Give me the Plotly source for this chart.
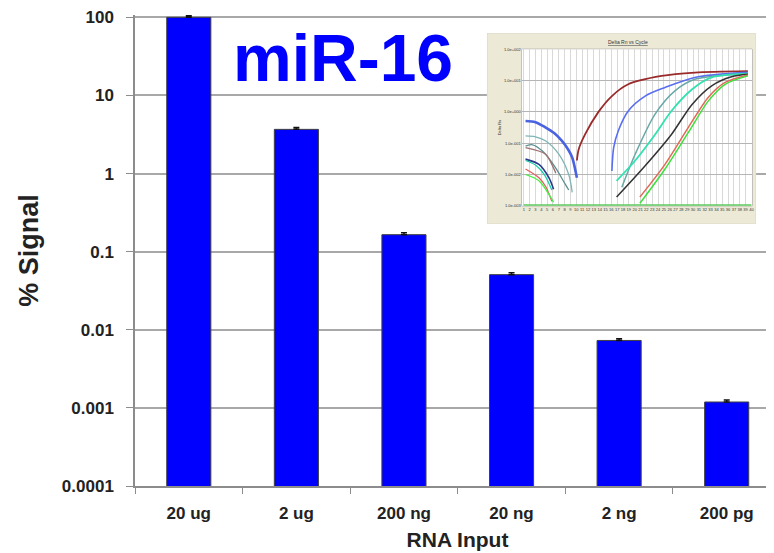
import plotly.graph_objects as go

# ---------------- data ----------------
categories = ["20 ug", "2 ug", "200 ng", "20 ng", "2 ng", "200 pg"]
signal = [100, 3.68, 0.165, 0.0508, 0.0073, 0.00119]
signal_err = [5, 0.2, 0.01, 0.003, 0.0004, 0.00007]
ytick_vals = [0.0001, 0.001, 0.01, 0.1, 1, 10, 100]
ytick_text = ["0.0001", "0.001", "0.01", "0.1", "1", "10", "100"]

# inset amplification plot (cycle, Delta Rn)
inset_curves = [
    # early baseline curves
    ("#4a63e0", 2.6, [1.3, 3, 4.7, 6.2, 7.5, 8.6, 9.3, 10.1], [0.51, 0.47, 0.32, 0.21, 0.12, 0.063, 0.035, 0.0079]),
    ("#7fb5b5", 1.3, [1.3, 3, 4.7, 7, 8.7, 9.3], [0.17, 0.16, 0.12, 0.045, 0.010, 0.0027]),
    ("#5c8f8f", 1.3, [1.3, 2.5, 4.1, 6.4, 8.1, 8.7], [0.081, 0.089, 0.058, 0.017, 0.0049, 0.0032]),
    ("#a07070", 1.3, [1.3, 4.7, 5.8, 6.5], [0.072, 0.045, 0.021, 0.011]),
    ("#2a3a8a", 1.6, [1.3, 3.6, 5.3, 6.1], [0.031, 0.021, 0.0079, 0.0034]),
    ("#22ccaa", 1.3, [1.3, 3.0, 4.5, 5.8], [0.028, 0.020, 0.010, 0.0032]),
    ("#e06060", 1.3, [1.3, 3.6, 4.8, 5.8], [0.015, 0.0079, 0.004, 0.0014]),
    ("#44ee44", 1.3, [1.3, 3.6, 6.1], [0.010, 0.0063, 0.0013]),
    # amplification curves
    ("#9b2a2a", 1.8, [10.1, 10.4, 11.5, 13.8, 16.1, 18.9, 24.6, 30.3, 39.4], [0.028, 0.063, 0.19, 1.0, 3.2, 7.6, 14, 18, 20]),
    ("#5a6ef0", 1.6, [16.1, 16.4, 17.2, 18.9, 21.8, 25.2, 30.3, 39.4], [0.013, 0.072, 0.25, 1.07, 3.2, 6.0, 12.6, 18.2]),
    ("#6aa8a8", 1.5, [17.8, 20.1, 23.5, 26.9, 30.3, 39.4], [0.0039, 0.045, 0.85, 4.7, 11, 16.6]),
    ("#33e0b0", 1.8, [16.9, 20.1, 23.5, 26.3, 29.8, 33.2, 39.4], [0.0063, 0.028, 0.19, 1.07, 5.2, 12.6, 16.6]),
    ("#333333", 1.5, [16.9, 21.8, 26.3, 29.8, 33.2, 36.6, 39.4], [0.0019, 0.019, 0.19, 1.7, 6.8, 13.2, 15.8]),
    ("#e06a5a", 1.5, [20.9, 25.2, 29.2, 32.6, 35.5, 39.4], [0.0019, 0.021, 0.32, 2.9, 8.7, 15.1]),
    ("#3ee03e", 1.5, [20.9, 25.2, 29.2, 32.6, 35.5, 39.4], [0.0012, 0.015, 0.22, 2.2, 7.6, 14.1]),
    ("#5cc85c", 3.0, [1, 40], [0.001, 0.001]),
]
inset_cycles = list(range(1, 41))
inset_ytick_vals = [0.001, 0.01, 0.1, 1, 10, 100]
inset_ytick_text = ["1.0e-003", "1.0e-002", "1.0e-001", "1.0e+000", "1.0e+001", "1.0e+002"]

# ---------------- layout geometry ----------------
# targets are given in screen pixels; the page body adds an 8px offset
OFF = 8
W, H = 774, 553
DEC = 470 / 6          # pixels per decade on the main y axis
YTOP = 2.03            # a little headroom so the 100 gridline is kept
L = 135 - OFF
T = 16 - (YTOP - 2) * DEC - OFF
B = H - (486 - OFF)
PW, PH = W - L, H - T - B


def fx(p):
    return (p - OFF - L) / PW


def fy(p):
    return (H - B - (p - OFF)) / PH


FONT = "Liberation Sans, Arial, sans-serif"

fig = go.Figure()

fig.add_trace(go.Bar(
    x=categories, y=signal, width=0.41,
    marker=dict(color="#0000ff", line=dict(color="#404040", width=1)),
    error_y=dict(type="data", array=signal_err, arrayminus=[0] * len(signal),
                 symmetric=False, color="#111111", thickness=1.5, width=3),
    xaxis="x", yaxis="y", showlegend=False, cliponaxis=False,
))

# inset panel background (beige) and white plotting area, in x2/y2 (0..1 space)
bx0, bx1, by0, by1 = 488, 758, 32, 223
ix0, ix1, iy0, iy1 = 523, 754, 48, 205


def ux(p):
    return (p - bx0) / (bx1 - bx0)


def uy(p):
    return (by1 - p) / (by1 - by0)


fig.add_trace(go.Scatter(
    x=[0, 1, 1, 0, 0], y=[0, 0, 1, 1, 0], mode="lines", fill="toself",
    fillcolor="#ece9d6", line=dict(color="#d8d4c0", width=1),
    xaxis="x2", yaxis="y2", showlegend=False, hoverinfo="skip"))
fig.add_trace(go.Scatter(
    x=[ux(ix0), ux(ix1), ux(ix1), ux(ix0), ux(ix0)],
    y=[uy(iy1), uy(iy1), uy(iy0), uy(iy0), uy(iy1)],
    mode="lines", fill="toself", fillcolor="#ffffff",
    line=dict(color="#9a9a9a", width=1),
    xaxis="x2", yaxis="y2", showlegend=False, hoverinfo="skip"))

for color, lw, cx, cy in inset_curves:
    fig.add_trace(go.Scatter(
        x=cx, y=cy, mode="lines", line=dict(color=color, width=lw, shape="spline", smoothing=0.8),
        xaxis="x3", yaxis="y3", showlegend=False, hoverinfo="skip", cliponaxis=False))

fig.update_layout(
    width=W, height=H,
    margin=dict(l=L, r=0, t=T, b=B, pad=0),
    paper_bgcolor="white", plot_bgcolor="white",
    font=dict(family=FONT, color="#222222"),
    xaxis=dict(
        domain=[0, 1], range=[-0.5, -0.5 + (W + OFF - 134.5) / 108],
        type="category", tickson="boundaries", ticks="outside", ticklen=6,
        tickcolor="#8c8c8c", tickwidth=1.2,
        showline=True, linecolor="#8c8c8c", linewidth=1.5, showgrid=False,
        tickfont=dict(size=17, weight="bold", color="#222222"),
        ticklabelstandoff=11, ticklabeloverflow="allow",
        title=dict(text="RNA Input", font=dict(size=21, weight="bold", color="#222222"), standoff=10),
    ),
    yaxis=dict(
        domain=[0, 1], type="log", range=[-4, YTOP],
        tickvals=ytick_vals, ticktext=ytick_text,
        ticks="outside", ticklen=7, tickcolor="#8c8c8c", tickwidth=1.2,
        showline=True, linecolor="#8c8c8c", linewidth=1.5,
        showgrid=True, gridcolor="#a8a8a8", gridwidth=1.5,
        tickfont=dict(size=17, weight="bold", color="#222222"),
        ticklabelstandoff=9, ticklabeloverflow="allow",
        title=dict(text="% Signal", font=dict(size=27, weight="bold", color="#222222"), standoff=15),
    ),
    xaxis2=dict(domain=[fx(bx0), fx(bx1)], range=[0, 1], visible=False, anchor="y2"),
    yaxis2=dict(domain=[fy(by1), fy(by0)], range=[0, 1], visible=False, anchor="x2"),
    xaxis3=dict(
        domain=[fx(ix0), fx(ix1)], range=[0.66, 40.12], anchor="y3",
        tickvals=inset_cycles, tickangle=0, tickfont=dict(size=4, color="#333333"),
        showgrid=True, gridcolor="#d9d9d9", gridwidth=0.8, ticks="", showline=False,
    ),
    yaxis3=dict(
        domain=[fy(iy1), fy(iy0)], type="log", range=[-3, 2], anchor="x3",
        tickvals=inset_ytick_vals, ticktext=inset_ytick_text,
        tickfont=dict(size=4, color="#333333"),
        showgrid=True, gridcolor="#b5b5b5", gridwidth=1, ticks="", showline=False,
        title=dict(text="Delta Rn", font=dict(size=4, color="#333333"), standoff=2),
    ),
    annotations=[
        dict(text="miR-16", x=fx(343.5), y=fy(57), xref="paper", yref="paper",
             xanchor="center", yanchor="middle", showarrow=False,
             font=dict(size=66, weight="bold", color="#0000ff", family=FONT)),
        dict(text="<u>Delta Rn vs Cycle</u>", x=fx(630), y=fy(41), xref="paper", yref="paper",
             xanchor="center", yanchor="middle", showarrow=False,
             font=dict(size=5, color="#333333", family=FONT)),
    ],
)

fig.write_html("out.html")
